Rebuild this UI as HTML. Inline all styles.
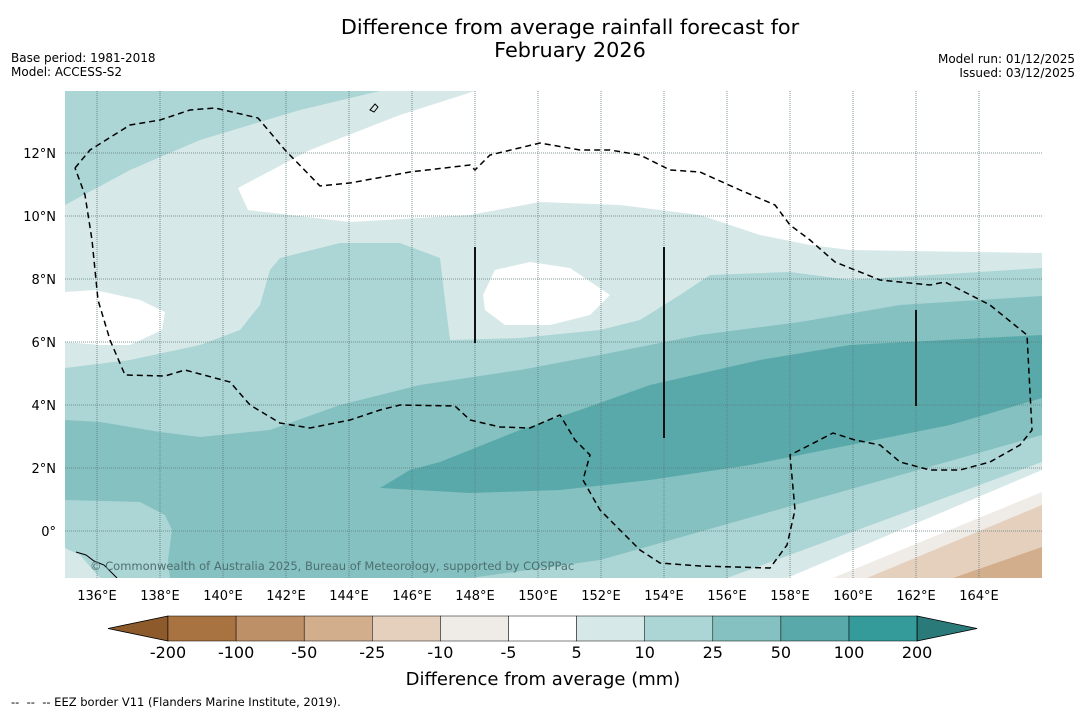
<!DOCTYPE html>
<html><head><meta charset="utf-8"><style>
html,body{margin:0;padding:0;background:#fff;}
body{width:1085px;height:713px;overflow:hidden;font-family:"Liberation Sans","DejaVu Sans",sans-serif;}
svg text{font-family:"DejaVu Sans","Liberation Sans",sans-serif;}
</style></head><body>
<svg id="chart" width="1085" height="713" viewBox="0 0 1085 713">
<text x="570" y="34" font-size="20.8" text-anchor="middle">Difference from average rainfall forecast for</text>
<text x="570" y="57" font-size="20.8" text-anchor="middle">February 2026</text>
<text x="11" y="62" font-size="12">Base period: 1981-2018</text>
<text x="11" y="76" font-size="12">Model: ACCESS-S2</text>
<text x="1075" y="63" font-size="12" text-anchor="end">Model run: 01/12/2025</text>
<text x="1075" y="77" font-size="12" text-anchor="end">Issued: 03/12/2025</text>
<defs><clipPath id="mapclip"><rect x="65" y="91" width="977" height="487"/></clipPath></defs>
<g id="map" clip-path="url(#mapclip)">
<rect x="65" y="91" width="977" height="487" fill="#d6e9e8"/>
<polygon fill="#acd5d5" points="65,91 380,91 300,110 200,140 130,170 65,205"/>
<polygon fill="#ffffff" points="475,91 1042,91 1042,253 850,250 810,245 760,235 700,215 620,205 540,202 470,215 350,222 248,210 238,188 310,150 400,115"/>
<polygon fill="#ffffff" points="65,292 95,290 140,300 165,312 162,330 130,345 100,345 65,342"/>
<polygon fill="#ffffff" points="483,295 495,270 530,262 570,268 610,295 590,315 550,325 505,325 485,310"/>
<polygon fill="#acd5d5" points="65,368 130,360 200,345 240,330 260,305 270,270 280,258 340,243 400,243 440,258 445,300 450,340 520,338 600,330 640,320 680,295 710,275 790,272 850,280 1042,268 1042,578 65,578"/>
<polygon fill="#84c1c0" points="65,420 100,422 160,432 200,437 270,430 340,405 420,385 520,370 600,355 700,335 800,322 900,305 1042,296 1042,578 65,578"/>
<polygon fill="#5aa9aa" points="380,488 410,470 440,462 520,430 580,410 650,385 760,360 850,345 1042,335 1042,398 950,425 850,445 750,465 650,480 560,490 470,493"/>
<polygon fill="#acd5d5" points="65,500 140,502 165,515 172,530 168,560 170,578 65,578"/>
<polygon fill="#d6e9e8" points="65,548 80,555 100,578 65,578"/>
<polygon fill="#acd5d5" points="470,578 600,560 1042,435 1042,578"/>
<polygon fill="#d6e9e8" points="727,578 1042,462 1042,578"/>
<polygon fill="#ffffff" points="787,578 1042,470 1042,578"/>
<polygon fill="#efebe7" points="833,578 1042,492 1042,578"/>
<polygon fill="#e4d0bd" points="867,578 1042,505 1042,578"/>
<polygon fill="#d2ae8c" points="953,578 1042,547 1042,578"/>
<g id="grid"></g>
<polyline fill="none" stroke="#000" stroke-width="1.5" stroke-dasharray="6,4" points="75,168 90,150 130,125 160,120 190,110 215,108 258,118 285,150 320,186 350,183 410,172 470,165 475,170 490,155 540,143 580,150 610,150 640,155 670,170 700,172 740,190 775,205 790,225 810,240 835,262 880,280 930,285 945,282 990,305 1027,335 1032,430 1020,445 990,462 960,470 930,470 900,462 880,445 855,440 833,433 800,450 790,455 795,510 787,545 770,568 700,566 660,563 640,550 600,510 583,480 590,455 575,440 560,415 530,428 500,427 470,420 455,406 400,405 380,410 350,420 310,428 280,423 250,405 230,382 185,370 165,376 125,375 110,340 98,300 92,240 85,195 75,168"/>
<line x1="475" y1="247" x2="475" y2="343" stroke="#111" stroke-width="2"/>
<line x1="664" y1="247" x2="664" y2="438" stroke="#111" stroke-width="2"/>
<line x1="916" y1="310" x2="916" y2="406" stroke="#111" stroke-width="2"/>
<path d="M76,552 l10,3 8,6 10,4 8,8 5,5" fill="none" stroke="#000" stroke-width="1"/>
<path d="M370,110 l5,-6 3,3 -4,5z" fill="none" stroke="#000" stroke-width="1"/>
<text x="90" y="570" font-size="11.5" fill="#4f6f6f">© Commonwealth of Australia 2025, Bureau of Meteorology, supported by COSPPac</text>
</g>
<g id="axes"></g>
<g id="cbar"></g>
<text x="543" y="685" font-size="18" text-anchor="middle">Difference from average (mm)</text>
<text x="11" y="706" font-size="11.5" xml:space="preserve">--  --  -- EEZ border V11 (Flanders Marine Institute, 2019).</text>
</svg>
<script>
const lonTicks=[136,138,140,142,144,146,148,150,152,154,156,158,160,162,164];
const latTicks=[0,2,4,6,8,10,12];
const cbarLevels=["-200","-100","-50","-25","-10","-5","5","10","25","50","100","200"];
const cbarColors=["#a87341","#be9067","#d2ae8c","#e4d0bd","#efebe7","#ffffff","#d6e9e8","#acd5d5","#84c1c0","#5aa9aa","#349a9a"];
const NS="http://www.w3.org/2000/svg";
const xLon=l=>97+31.5*(l-136);
const yLat=l=>531-31.5*l;
function mk(t,a,p){const e=document.createElementNS(NS,t);for(const k in a)e.setAttribute(k,a[k]);p.appendChild(e);return e;}
const grid=document.getElementById('grid'),axes=document.getElementById('axes'),cbar=document.getElementById('cbar');
lonTicks.forEach(l=>{
 const g=mk('line',{x1:xLon(l),x2:xLon(l),y1:91,y2:578,stroke:'#5e7a7a','stroke-width':0.8,'stroke-dasharray':'1,1'},grid);
 
 
 const t=mk('text',{x:xLon(l),y:600,'font-size':13,'text-anchor':'middle'},axes);
 t.textContent=l+'°E';
 
 
});
latTicks.forEach(l=>{
 const g=mk('line',{x1:65,x2:1042,y1:yLat(l),y2:yLat(l),stroke:'#5e7a7a','stroke-width':0.8,'stroke-dasharray':'1,1'},grid);
 
 
 const t=mk('text',{x:56,y:yLat(l)+5,'font-size':13,'text-anchor':'end'},axes);
 t.textContent=l===0?'0°':l+'°N';
 
 
});
const cx0=168,cw=68.1,cy=616,ch=25;
const lt=mk('polygon',{points:`108,${cy+ch/2} ${cx0},${cy} ${cx0},${cy+ch}`,fill:'#8d5a2c',stroke:'#000','stroke-width':0.8},cbar);


cbarColors.forEach((c,i)=>{
 const r=mk('rect',{x:cx0+i*cw,y:cy,width:cw,height:ch,fill:c,stroke:'#000','stroke-width':0.5},cbar);
 
 
});
const xe=cx0+cbarColors.length*cw;
const rt=mk('polygon',{points:`${xe},${cy} ${xe+60},${cy+ch/2} ${xe},${cy+ch}`,fill:'#2b7a7a',stroke:'#000','stroke-width':0.8},cbar);


cbarLevels.forEach((v,i)=>{
 const t=mk('text',{x:cx0+i*cw,y:658,'font-size':16,'text-anchor':'middle'},cbar);
 t.textContent=v;
 
 
});
</script>
</body></html>
